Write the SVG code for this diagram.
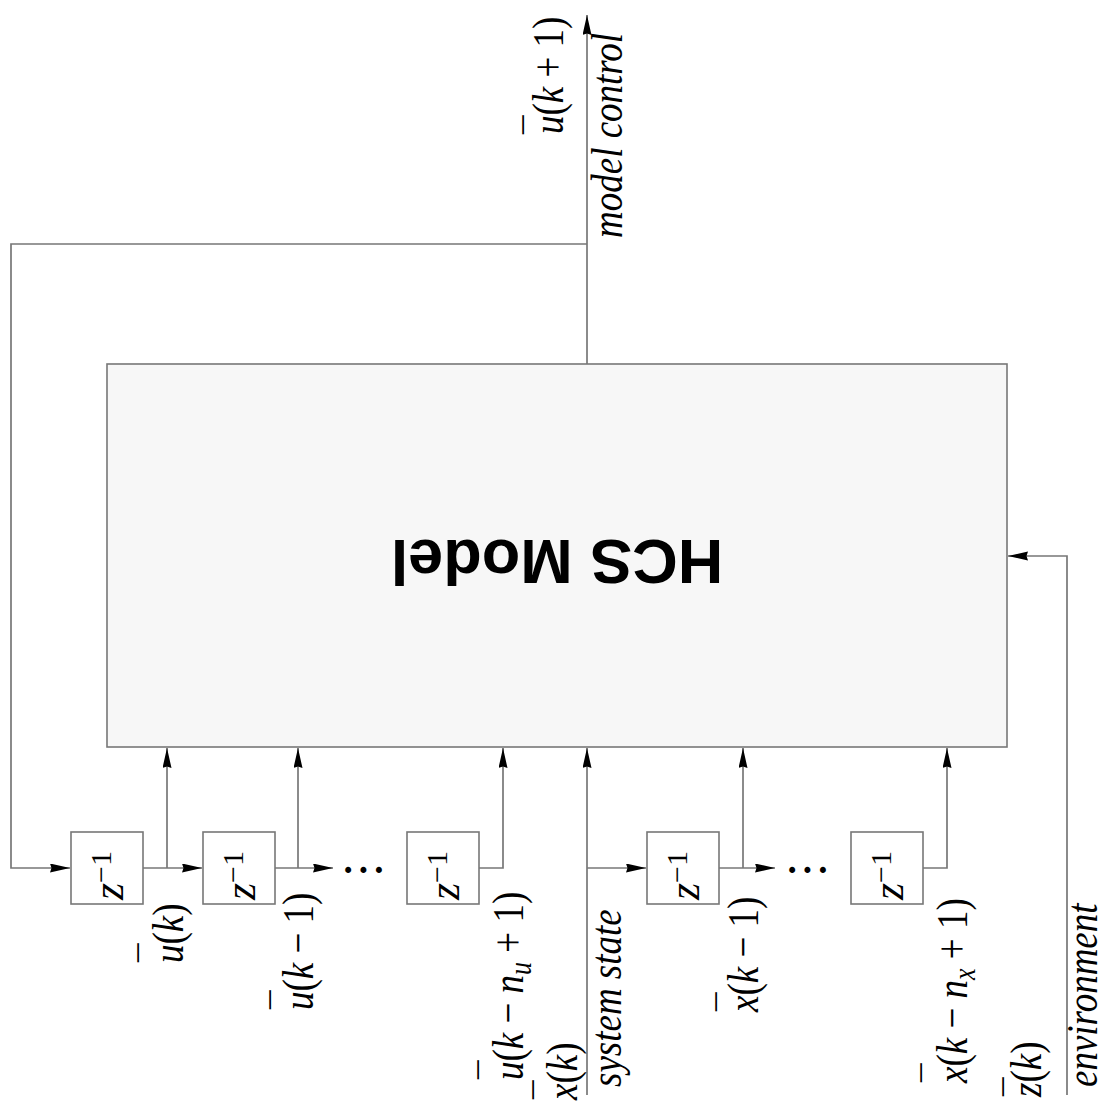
<svg xmlns="http://www.w3.org/2000/svg" width="1108" height="1114" viewBox="0 0 1108 1114">
<style>
.ln{fill:none;stroke:#777;stroke-width:1.7}
.box{fill:#fff;stroke:#777;stroke-width:1.6}
.main{fill:#f7f7f7;stroke:#777;stroke-width:1.6}
.t{font-family:"Liberation Serif","Times New Roman",serif;font-size:37px;fill:#000}
.z{font-family:"Liberation Serif","Times New Roman",serif;font-size:44px;fill:#000}
.i{font-style:italic}
.sup{font-size:26px}
.zsup{font-size:30px}
.hcs{font-family:"Liberation Sans",Arial,sans-serif;font-weight:bold;font-size:63px;fill:#000}
</style>
<defs>
<marker id="ar" markerUnits="userSpaceOnUse" markerWidth="22" markerHeight="10" refX="20" refY="4.5" orient="auto">
<path d="M0,0 L20,4.5 L0,9 L1.5,4.5 z" fill="#000"/>
</marker>
</defs>
<rect width="1108" height="1114" fill="#fff"/>

<g id="connectors">
<path class="ln" d="M587,364 V15" marker-end="url(#ar)"/>
<path class="ln" d="M587,244 H11 V868 H70" marker-end="url(#ar)"/>
<path class="ln" d="M143,868 H202" marker-end="url(#ar)"/>
<path class="ln" d="M167,868 V748" marker-end="url(#ar)"/>
<path class="ln" d="M275,868 H333" marker-end="url(#ar)"/>
<path class="ln" d="M298,868 V748" marker-end="url(#ar)"/>
<path class="ln" d="M479,868 H503 V748" marker-end="url(#ar)"/>
<path class="ln" d="M587,1095 V748" marker-end="url(#ar)"/>
<path class="ln" d="M587,868 H646" marker-end="url(#ar)"/>
<path class="ln" d="M719,868 H775" marker-end="url(#ar)"/>
<path class="ln" d="M743,868 V748" marker-end="url(#ar)"/>
<path class="ln" d="M923,868 H947 V748" marker-end="url(#ar)"/>
<path class="ln" d="M1067,1095 V556 H1008" marker-end="url(#ar)"/>
</g>

<g id="hcs-model">
<rect class="main" x="107" y="364" width="900" height="383"/>
<text class="hcs" transform="translate(557,540) rotate(180)" text-anchor="middle">HCS Model</text>
</g>

<g id="delay-u1">
<rect class="box" x="71" y="832" width="72" height="72"/>
<text class="z" transform="translate(123,900) rotate(-90)"><tspan class="i">z</tspan><tspan class="zsup" dy="-12">−1</tspan></text>
</g>
<g id="delay-u2">
<rect class="box" x="203" y="832" width="72" height="72"/>
<text class="z" transform="translate(255,900) rotate(-90)"><tspan class="i">z</tspan><tspan class="zsup" dy="-12">−1</tspan></text>
</g>
<g id="delay-u3">
<rect class="box" x="407" y="832" width="72" height="72"/>
<text class="z" transform="translate(459,900) rotate(-90)"><tspan class="i">z</tspan><tspan class="zsup" dy="-12">−1</tspan></text>
</g>
<g id="delay-x1">
<rect class="box" x="647" y="832" width="72" height="72"/>
<text class="z" transform="translate(699,900) rotate(-90)"><tspan class="i">z</tspan><tspan class="zsup" dy="-12">−1</tspan></text>
</g>
<g id="delay-x2">
<rect class="box" x="851" y="832" width="72" height="72"/>
<text class="z" transform="translate(903,900) rotate(-90)"><tspan class="i">z</tspan><tspan class="zsup" dy="-12">−1</tspan></text>
</g>

<g id="dots">
<text class="t" x="365" y="883" text-anchor="middle" letter-spacing="3" font-weight="bold">···</text>
<text class="t" x="809" y="883" text-anchor="middle" letter-spacing="3" font-weight="bold">···</text>
</g>

<g id="labels">
<text class="t i" transform="translate(622,238) rotate(-90) scale(1,1.2)">model control</text>
<text class="t" transform="translate(563,134) rotate(-90) scale(1,1.2)"><tspan class="i">u</tspan>(<tspan class="i">k</tspan> + 1)</text>
<text class="t" transform="translate(551,134) rotate(-90)">¯</text>

<text class="t" transform="translate(183,963) rotate(-90) scale(1,1.2)"><tspan class="i">u</tspan>(<tspan class="i">k</tspan>)</text>
<text class="t" transform="translate(166,962) rotate(-90)">¯</text>

<text class="t" transform="translate(313,1010) rotate(-90) scale(1,1.2)"><tspan class="i">u</tspan>(<tspan class="i">k</tspan> − 1)</text>
<text class="t" transform="translate(298,1009) rotate(-90)">¯</text>

<text class="t" transform="translate(523,1080) rotate(-90) scale(1,1.2)"><tspan class="i">u</tspan>(<tspan class="i">k</tspan> − <tspan class="i">n</tspan><tspan class="i sup" dy="7">u</tspan><tspan dy="-7"> + 1)</tspan></text>
<text class="t" transform="translate(506,1079) rotate(-90)">¯</text>

<text class="t" transform="translate(577,1100) rotate(-90) scale(1,1.2)"><tspan class="i">x</tspan>(<tspan class="i">k</tspan>)</text>
<text class="t" transform="translate(561,1099) rotate(-90)">¯</text>

<text class="t i" transform="translate(621,1087) rotate(-90) scale(1,1.2)">system state</text>

<text class="t" transform="translate(758,1012) rotate(-90) scale(1,1.2)"><tspan class="i">x</tspan>(<tspan class="i">k</tspan> − 1)</text>
<text class="t" transform="translate(744,1011) rotate(-90)">¯</text>

<text class="t" transform="translate(967,1083) rotate(-90) scale(1,1.2)"><tspan class="i">x</tspan>(<tspan class="i">k</tspan> − <tspan class="i">n</tspan><tspan class="i sup" dy="7">x</tspan><tspan dy="-7"> + 1)</tspan></text>
<text class="t" transform="translate(949,1082) rotate(-90)">¯</text>

<text class="t" transform="translate(1041,1097) rotate(-90) scale(1,1.2)"><tspan class="i">z</tspan>(<tspan class="i">k</tspan>)</text>
<text class="t" transform="translate(1031,1096) rotate(-90)">¯</text>

<text class="t i" transform="translate(1097,1087) rotate(-90) scale(1,1.2)">environment</text>
</g>
</svg>
